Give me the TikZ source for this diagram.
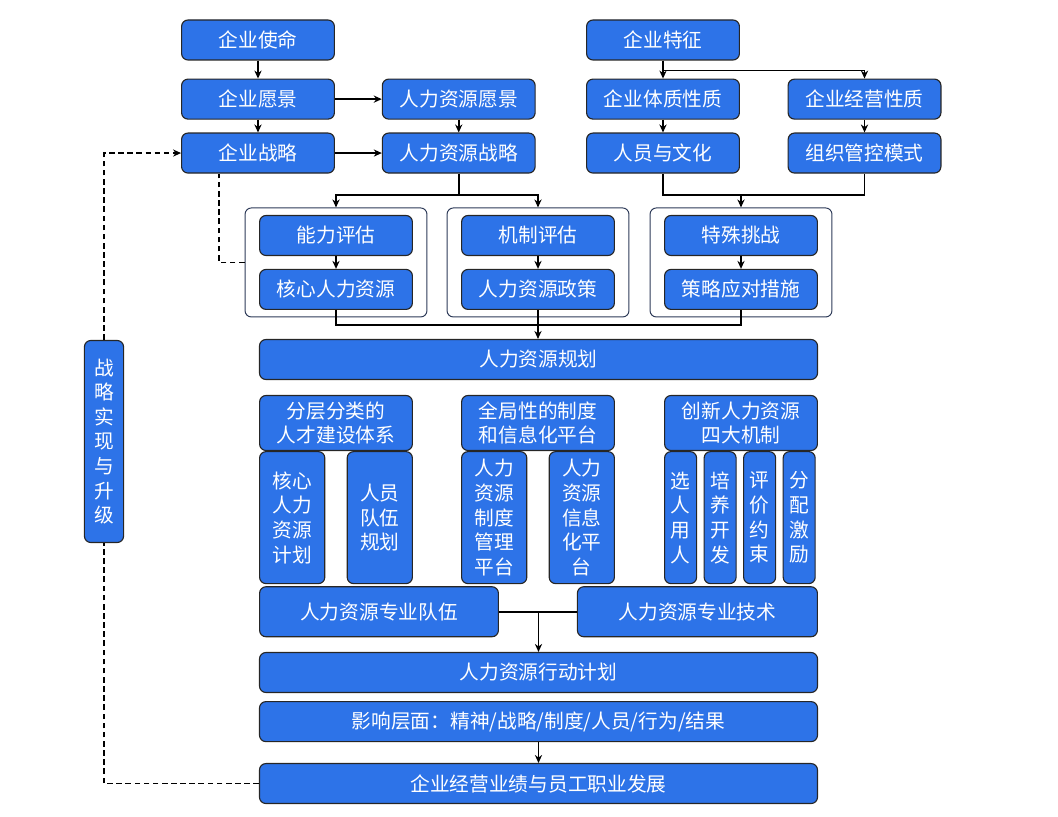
\documentclass[tikz,border=0pt]{standalone}
\usepackage{fontspec}
\setmainfont{Noto Sans CJK SC}
\usepackage{tikz}
\usetikzlibrary{positioning,arrows.meta,fit}
\definecolor{hrblue}{RGB}{45,115,232}
\definecolor{grpline}{RGB}{45,58,88}

\begin{document}
\begin{tikzpicture}[x=0.25mm,y=-0.25mm,
  >={Stealth[length=2mm,width=1.8mm]}, node distance=3.2mm,
  box/.style={draw=black!85,line width=0.8pt,fill=hrblue,text=white,
              rounded corners=1.6mm,minimum width=38.2mm,minimum height=10mm,
              inner sep=0pt,align=center,font=\fontsize{14}{17.5}\selectfont},
  wide/.style={box,minimum width=139.5mm},
  head/.style={box,minimum height=13.75mm},
  tall/.style={box,minimum width=16.3mm,minimum height=33mm},
  slim/.style={box,minimum width=8mm,minimum height=33mm},
  grp/.style={draw=grpline,line width=0.7pt,rounded corners=1.6mm,
              inner xsep=3.5mm,inner ysep=1.75mm},
  link/.style={->,line width=1.1pt},
  fb/.style={line width=1.1pt,dash pattern=on 4pt off 2.5pt}]
  \useasboundingbox (0,0) rectangle (1058,817);
  % --- enterprise column ---
  \node[box] (mis) at (258,40) {企业使命};
  \node[box,below=4.5mm of mis] (vis) {企业愿景};
  \node[box,below=of vis] (str) {企业战略};
  \node[box,right=11.7mm of vis] (hrv) {人力资源愿景};
  \node[box,below=of hrv] (hrs) {人力资源战略};
  % --- enterprise features ---
  \node[box] (fea) at (663,40) {企业特征};
  \node[box,below=4.5mm of fea] (nat) {企业体质性质};
  \node[box,below=of nat] (cul) {人员与文化};
  \node[box,right=11.9mm of nat] (ope) {企业经营性质};
  \node[box,below=of ope] (ctl) {组织管控模式};
  \draw[link] (mis) -- (vis);
  \draw[link] (vis) -- (str);
  \draw[link] (vis) -- (hrv);
  \draw[link] (str) -- (hrs);
  \draw[link] (hrv) -- (hrs);
  \draw[link] (fea) -- (nat);
  \draw[link] (fea.south) -- ++(0,10) -| (ope.north);
  \draw[link] (nat) -- (cul);
  \draw[link] (ope) -- (ctl);
  % --- three assessment groups ---
  \node[box] (cap) at (336,235.5) {能力评估};
  \node[box,below=of cap] (core) {核心人力资源};
  \node[box] (mech) at (538,235.5) {机制评估};
  \node[box,below=of mech] (pol) {人力资源政策};
  \node[box] (chal) at (741,235.5) {特殊挑战};
  \node[box,below=of chal] (resp) {策略应对措施};
  \node[grp,fit=(cap)(core)] (g1) {};
  \node[grp,fit=(mech)(pol)] (g2) {};
  \node[grp,fit=(chal)(resp)] (g3) {};
  \draw[link] (cap) -- (core);
  \draw[link] (mech) -- (pol);
  \draw[link] (chal) -- (resp);
  \coordinate (jl) at (336,195);
  \coordinate (jm) at (538,195);
  \coordinate (jr) at (741,195);
  \coordinate (jb) at (538,325);
  \draw[link] (hrs.south) |- (jl) -- (g1.north);
  \draw[link] (hrs.south) |- (jm) -- (g2.north);
  \draw[line width=1.1pt] (cul.south) |- (jr) -| (ctl.south);
  \draw[link] (jr) -- (g3.north);
  % --- planning ---
  \node[wide] (plan) at (538.5,359.5) {人力资源规划};
  \draw[line width=1.1pt] (core.south) |- (jb) -| (resp.south);
  \draw[link] (pol.south) -- (pol.south |- plan.north);
  % --- three pillars ---
  \node[head] (h1) at (336,423) {分层分类的\\人才建设体系};
  \node[head] (h2) at (538,423) {全局性的制度\\和信息化平台};
  \node[head] (h3) at (741,423) {创新人力资源\\四大机制};
  \node[tall,below right=0pt and 0pt of h1.south west] (t1) {核心\\人力\\资源\\计划};
  \node[tall,below left=0pt and 0pt of h1.south east] (t2) {人员\\队伍\\规划};
  \node[tall,below right=0pt and 0pt of h2.south west] (t3) {人力\\资源\\制度\\管理\\平台};
  \node[tall,below left=0pt and 0pt of h2.south east] (t4) {人力\\资源\\信息\\化平\\台};
  \node[slim,below right=0pt and 0pt of h3.south west] (m1) {选\\人\\用\\人};
  \foreach \i/\txt in {2/{培\\养\\开\\发},3/{评\\价\\约\\束},4/{分\\配\\激\\励}}{%
    \pgfmathtruncatemacro{\p}{\i-1}%
    \node[slim,right=1.6mm of m\p] (m\i) {\txt};}
  % --- team / technique and action ---
  \node[box,minimum width=59.7mm,minimum height=12.5mm,
        below right=0.5mm and 0pt of t1.south west] (team) {人力资源专业队伍};
  \node[box,minimum width=60mm,minimum height=12.5mm,
        below left=0.5mm and 0pt of h3.south east |- t1.south] (tech) {人力资源专业技术};
  \node[wide] (act) at (538.5,672.5) {人力资源行动计划};
  \node[wide,below=2mm of act] (imp) {影响层面：精神/战略/制度/人员/行为/结果};
  \node[wide,below=5.2mm of imp] (res) {企业经营业绩与员工职业发展};
  \draw[line width=1.1pt] (team) -- (tech);
  \draw[link] (act.north |- team.east) -- (act.north);
  \draw[link] (imp) -- (res);
  % --- feedback loop ---
  \node[box,minimum width=9.8mm,minimum height=50.5mm] (upg) at (104,441.5)
       {战\\略\\实\\现\\与\\升\\级};
  \draw[fb] (res.west) -| (upg.south);
  \draw[fb,->] (upg.north) |- (str.west);
  \draw[fb] (g1.west) -| ([xshift=-9.75mm]str.south);
\end{tikzpicture}
\end{document}
